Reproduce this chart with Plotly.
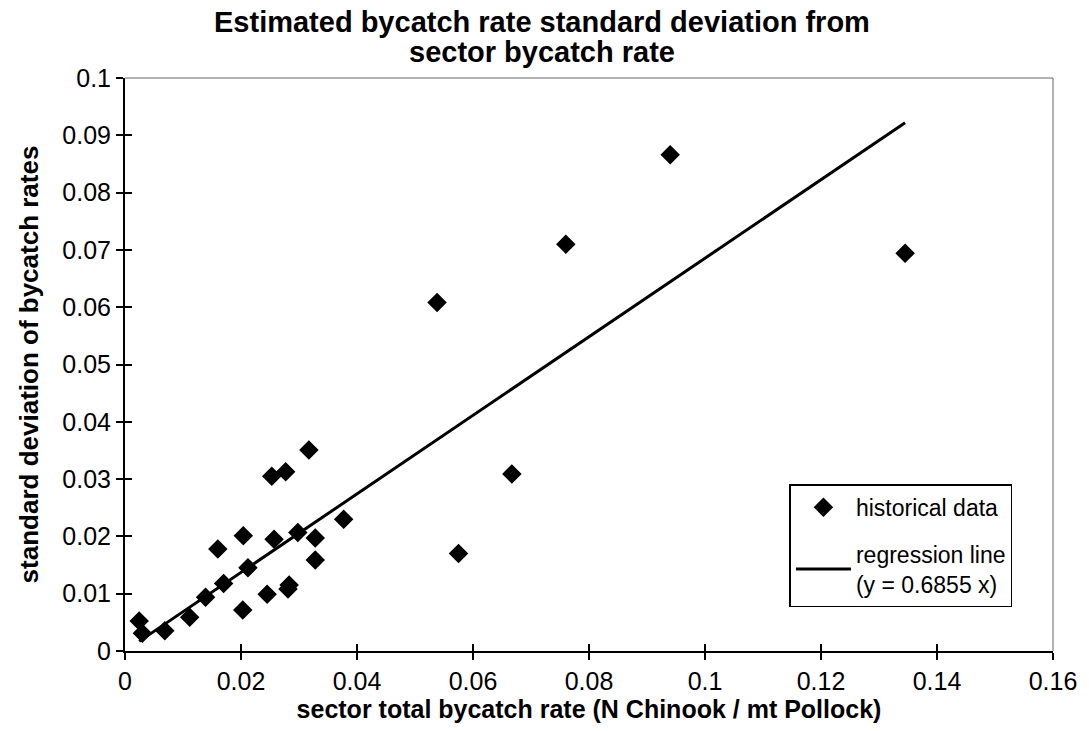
import plotly.graph_objects as go

# Sector total bycatch rate (N Chinook / mt Pollock) and the standard deviation of bycatch rates
sector_rate = [0.00245, 0.0030, 0.00686, 0.01115, 0.01389, 0.0160, 0.0170, 0.0204, 0.0203,
               0.0212, 0.0245, 0.0253, 0.0257, 0.0277, 0.0283, 0.0281, 0.0298, 0.0317,
               0.0328, 0.0328, 0.0377, 0.0538, 0.0575, 0.0667, 0.0760, 0.0940, 0.1345]
rate_sd = [0.00524, 0.0031, 0.00355, 0.00588, 0.00939, 0.0178, 0.0118, 0.0201, 0.00716,
           0.01454, 0.0099, 0.0305, 0.0195, 0.0313, 0.01152, 0.0108, 0.0207, 0.0351,
           0.0197, 0.0159, 0.0230, 0.0608, 0.0170, 0.0309, 0.0710, 0.0866, 0.0694]

slope = 0.6855
title_lines = ["Estimated bycatch rate standard deviation from", "sector bycatch rate"]
x_ticks = [0, 0.02, 0.04, 0.06, 0.08, 0.1, 0.12, 0.14, 0.16]
x_tick_text = ["0", "0.02", "0.04", "0.06", "0.08", "0.1", "0.12", "0.14", "0.16"]
y_ticks = [0, 0.01, 0.02, 0.03, 0.04, 0.05, 0.06, 0.07, 0.08, 0.09, 0.1]
y_tick_text = ["0", "0.01", "0.02", "0.03", "0.04", "0.05", "0.06", "0.07", "0.08", "0.09", "0.1"]

FONT = "Liberation Sans, Arial, sans-serif"

line_x = [min(sector_rate), max(sector_rate)]
line_y = [slope * v for v in line_x]

fig = go.Figure()
fig.add_trace(go.Scatter(
    x=sector_rate, y=rate_sd, mode="markers", name="historical data",
    marker=dict(symbol="diamond", size=15, color="black"),
    legendgroup="a",
))
fig.add_trace(go.Scatter(
    x=line_x, y=line_y, mode="lines", name=f"regression line<br>(y = {slope} x)",
    line=dict(color="black", width=3),
    legendgroup="b",
))

axis_common = dict(showgrid=False, zeroline=False, color="black",
                   linecolor="black", linewidth=2, tickcolor="black", tickwidth=1.5)

# two-line heading centred on the page
title_annotations = [
    dict(text=f"<b>{t}</b>", xref="paper", yref="paper", x=0.4496, y=yv,
         xanchor="center", yanchor="middle", showarrow=False,
         font=dict(size=29, family=FONT, color="black"))
    for t, yv in zip(title_lines, [1.0977, 1.0454])
]

fig.update_layout(
    width=1089, height=731,
    margin=dict(l=125, r=31, t=78, b=80),
    paper_bgcolor="white", plot_bgcolor="white",
    font=dict(family=FONT, color="black"),
    annotations=title_annotations,
    xaxis=dict(
        range=[0, 0.16], tickvals=x_ticks, ticktext=x_tick_text,
        ticks="outside", ticklen=7, showline=True,
        tickfont=dict(size=25),
        title=dict(text="<b>sector total bycatch rate (N Chinook / mt Pollock)</b>",
                   font=dict(size=25), standoff=0),
        **axis_common,
    ),
    yaxis=dict(
        range=[0, 0.1], tickvals=y_ticks, ticktext=y_tick_text,
        ticks="outside", ticklen=7, showline=True,
        tickfont=dict(size=25),
        title=dict(text="<b>standard deviation of bycatch rates</b>",
                   font=dict(size=26), standoff=16),
        **axis_common,
    ),
    # inner halves of the crossing tick marks
    xaxis2=dict(range=[0, 0.16], tickvals=x_ticks, ticks="inside", ticklen=7,
                showticklabels=False, overlaying="x", anchor="y", side="bottom",
                showgrid=False, zeroline=False, showline=False,
                tickcolor="black", tickwidth=1.5),
    yaxis2=dict(range=[0, 0.1], tickvals=y_ticks, ticks="inside", ticklen=7,
                showticklabels=False, overlaying="y", anchor="x", side="left",
                showgrid=False, zeroline=False, showline=False,
                tickcolor="black", tickwidth=1.5),
    legend=dict(
        x=0.716, y=0.291, xanchor="left", yanchor="top",
        bordercolor="black", borderwidth=1.5, bgcolor="white",
        font=dict(size=23, family=FONT, color="black"),
        tracegroupgap=14, itemwidth=55,
    ),
    shapes=[
        dict(type="line", xref="paper", yref="paper", x0=0, x1=1, y0=1, y1=1,
             line=dict(color="#666666", width=1)),
        dict(type="line", xref="paper", yref="paper", x0=1, x1=1, y0=0, y1=1,
             line=dict(color="#666666", width=1)),
    ],
)

# invisible trace that activates the overlay tick axes
fig.add_trace(go.Scatter(x=[None], y=[None], xaxis="x2", yaxis="y2",
                         showlegend=False, hoverinfo="skip"))

fig.write_html("out.html")
